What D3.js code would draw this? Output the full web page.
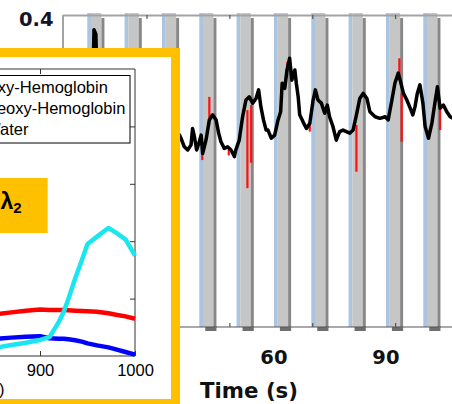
<!DOCTYPE html>
<html>
<head>
<meta charset="utf-8">
<script src="https://cdn.jsdelivr.net/npm/d3@7"></script>
<style>
  body { margin: 0; background: #fff; }
  svg { display: block; }
</style>
</head>
<body>
<div class="vis-holder"></div>
<script>
// stimulus onsets (s)
var onsets = [10, 20, 30, 40, 50, 60, 70, 80, 90, 100];
// time labels under the axis
var timeLabels = [60, 90];
// small tick marks on the frame
var frameTicks = [26.0, 48.2, 70.4, 92.6];

// filtered signal (black)
var traceT = [3.5, 8.1, 11.3, 11.8, 12.3, 12.9, 18.8, 26.8, 33.8,
  34.7, 35.1, 36.0, 36.9, 37.8, 38.2, 38.7, 39.3, 40.0, 40.5,
  40.9, 41.8, 42.7, 43.6, 44.5, 45.2, 45.8, 46.7, 47.6, 48.5,
  49.4, 49.8, 50.7, 51.6, 52.5, 53.4, 54.3, 55.2, 55.9, 56.5,
  57.2, 57.9, 58.4, 59.3, 60.2, 61.1, 61.8, 62.2, 62.9, 63.5,
  64.2, 64.8, 65.6, 66.0, 66.5, 66.9, 67.8, 68.7, 69.6, 70.5,
  71.1, 71.8, 72.7, 73.6, 74.3, 74.9, 75.8, 76.7, 77.6, 78.5,
  79.4, 80.3, 81.2, 82.1, 83.0, 83.9, 84.9, 85.7, 87.1, 88.4,
  89.8, 90.6, 91.6, 92.4, 93.3, 93.8, 94.7, 95.6, 96.5, 97.2,
  97.8, 98.4, 99.1, 99.9, 100.5, 101.4, 102.3, 103.1, 103.8, 104.5,
  105.4, 106.3, 107.2, 108.0, 109.8];
var traceV = [0.08, 0.105, 0.131, 0.362, 0.351, 0.131, 0.092, 0.105, 0.10,
  0.092, 0.084, 0.062, 0.054, 0.067, 0.109, 0.088, 0.054, 0.075, 0.092,
  0.045, 0.079, 0.131, 0.144, 0.131, 0.097, 0.075, 0.058, 0.062, 0.054,
  0.037, 0.054, 0.079, 0.139, 0.182, 0.19, 0.174, 0.186, 0.208, 0.165,
  0.131, 0.105, 0.105, 0.084, 0.092, 0.131, 0.152, 0.225, 0.212, 0.259,
  0.289, 0.233, 0.259, 0.225, 0.19, 0.144, 0.126, 0.109, 0.122, 0.182,
  0.208, 0.182, 0.174, 0.148, 0.169, 0.139, 0.114, 0.079, 0.101, 0.105,
  0.101, 0.097, 0.105, 0.144, 0.186, 0.199, 0.186, 0.152, 0.139, 0.135,
  0.139, 0.131, 0.182, 0.225, 0.251, 0.233, 0.199, 0.182, 0.161, 0.144,
  0.165, 0.199, 0.221, 0.174, 0.114, 0.084, 0.122, 0.174, 0.216, 0.161,
  0.169, 0.152, 0.139, 0.135, 0.131];

// raw signal spikes (red)
var spikeT    = [40.8, 42.7, 47.9, 52.9, 53.9, 63.6, 69.6, 82.1, 93.6, 94.2, 104.5];
var spikeFrom = [0.054, 0.131, 0.060, 0.156, 0.169, 0.260, 0.122, 0.118, 0.233, 0.200, 0.161];
var spikeTo   = [0.028, 0.190, 0.040, -0.044, 0.021, 0.280, 0.101, -0.002, 0.289, 0.075, 0.105];

// inset: absorption spectra
var wavelength = [855, 870, 885, 900, 910, 920, 925, 930, 937, 944, 950, 960, 972, 980, 990, 1000];
var oxyHb   = [0.73, 0.76, 0.79, 0.81, 0.80, 0.80, 0.80, 0.795, 0.79, 0.785, 0.78, 0.77, 0.745, 0.72, 0.69, 0.65];
var deoxyHb = [0.30, 0.32, 0.335, 0.345, 0.31, 0.30, 0.30, 0.29, 0.275, 0.25, 0.22, 0.185, 0.15, 0.115, 0.07, 0.025];
var water   = [0.15, 0.19, 0.23, 0.28, 0.33, 0.60, 0.77, 1.0, 1.35, 1.67, 1.95, 2.08, 2.23, 2.15, 2.03, 1.75];
var insetXTicks = [900, 1000];
var insetYTicks = [1, 2, 3, 4];
var legendNames = ["Oxy-Hemoglobin", "Deoxy-Hemoglobin", "Water"];

var width = 452, height = 404;
var svg = d3.select(".vis-holder").append("svg")
  .attr("width", width).attr("height", height);

// ---------- main time series ----------
var xScale = d3.scaleLinear().domain([3.5, 110]).range([63, 460.6]);
var yScale = d3.scaleLinear().domain([-0.4, 0.4]).range([327, 15]);

var bands = svg.append("g");
onsets.forEach(function(t) {
  // dark shadow below axis
  bands.append("rect")
    .attr("x", xScale(t + 1.6)).attr("y", 326)
    .attr("width", xScale(t + 4.6) - xScale(t + 1.6)).attr("height", 5)
    .attr("fill", "#6e6e6e");
  bands.append("rect")
    .attr("x", xScale(t)).attr("y", 13)
    .attr("width", xScale(t + 1.0) - xScale(t)).attr("height", 314)
    .attr("fill", "#a9c5e0");
  bands.append("rect")
    .attr("x", xScale(t + 1.0)).attr("y", 13)
    .attr("width", xScale(t + 3.8) - xScale(t + 1.0)).attr("height", 314)
    .attr("fill", "#c6c6c6");
  bands.append("rect")
    .attr("x", xScale(t + 3.8)).attr("y", 18)
    .attr("width", xScale(t + 4.6) - xScale(t + 3.8)).attr("height", 310)
    .attr("fill", "#878787");
});

// frame
svg.append("line").attr("x1", 63).attr("x2", 460).attr("y1", 15.5).attr("y2", 15.5)
  .attr("stroke", "#a3a3a3").attr("stroke-width", 2);
svg.append("line").attr("x1", 63).attr("x2", 63).attr("y1", 15).attr("y2", 327)
  .attr("stroke", "#a3a3a3").attr("stroke-width", 2);
svg.append("line").attr("x1", 63).attr("x2", 460).attr("y1", 327).attr("y2", 327)
  .attr("stroke", "#555").attr("stroke-width", 1.2);

svg.selectAll(".ftick-top").data(frameTicks).enter().append("line")
  .attr("x1", function(d) { return xScale(d); }).attr("x2", function(d) { return xScale(d); })
  .attr("y1", 15).attr("y2", 19).attr("stroke", "#555").attr("stroke-width", 1.2);
svg.selectAll(".ftick-bot").data(frameTicks).enter().append("line")
  .attr("x1", function(d) { return xScale(d); }).attr("x2", function(d) { return xScale(d); })
  .attr("y1", 323).attr("y2", 327).attr("stroke", "#555").attr("stroke-width", 1.2);

// red raw spikes
svg.selectAll(".spike").data(spikeT).enter().append("line")
  .attr("x1", function(d) { return xScale(d); })
  .attr("x2", function(d) { return xScale(d); })
  .attr("y1", function(d, i) { return yScale(spikeFrom[i]); })
  .attr("y2", function(d, i) { return yScale(spikeTo[i]); })
  .attr("stroke", "#ff1010").attr("stroke-width", 2.2);

var trace = traceT.map(function(t, i) { return [t, traceV[i]]; });
var line = d3.line()
  .x(function(d) { return xScale(d[0]); })
  .y(function(d) { return yScale(d[1]); });
svg.append("path").attr("d", line(trace))
  .attr("fill", "none").attr("stroke", "#000").attr("stroke-width", 3.5)
  .attr("stroke-linejoin", "round");

// labels
svg.append("text").attr("x", 53.5).attr("y", 26)
  .attr("text-anchor", "end")
  .style("font", "bold 19.5px 'DejaVu Sans'").attr("fill", "#141428")
  .text("0.4");
svg.selectAll(".tlabel").data(timeLabels).enter().append("text")
  .attr("x", function(d) { return xScale(d); }).attr("y", 364)
  .attr("text-anchor", "middle")
  .style("font", "bold 19.5px 'DejaVu Sans'").attr("fill", "#111")
  .text(function(d) { return d; });
svg.append("text").attr("x", 200).attr("y", 397.5)
  .style("font", "bold 21.3px 'DejaVu Sans'").attr("fill", "#111")
  .text("Time (s)");

// ---------- inset ----------
var inset = svg.append("g");
inset.append("rect").attr("x", -20).attr("y", 52.5)
  .attr("width", 195.5).attr("height", 351).attr("fill", "#fff");

var wScale = d3.scaleLinear().domain([850, 1000]).range([-7.5, 135]);
var aScale = d3.scaleLinear().domain([0, 5]).range([356, 69]);

// axes box
inset.append("path")
  .attr("d", "M-10," + aScale(5) + "H" + wScale(1000) + "V" + aScale(0) + "H-10")
  .attr("fill", "none").attr("stroke", "#333").attr("stroke-width", 1);

inset.append("g").attr("transform", "translate(0," + aScale(0) + ")")
  .call(d3.axisBottom(wScale).tickValues(insetXTicks).tickFormat(d3.format("d"))
    .tickSizeInner(-5).tickSizeOuter(0).tickPadding(8))
  .call(function(g) {
    g.select(".domain").remove();
    g.selectAll("line").attr("stroke", "#333");
    g.selectAll("text").style("font", "16.5px 'Liberation Sans'").attr("fill", "#000");
  });
inset.append("g").attr("transform", "translate(0," + aScale(5) + ")")
  .call(d3.axisTop(wScale).tickValues([900]).tickSizeInner(-5).tickSizeOuter(0).tickFormat(""))
  .call(function(g) { g.select(".domain").remove(); g.selectAll("line").attr("stroke", "#333"); });
inset.append("g").attr("transform", "translate(" + wScale(1000) + ",0)")
  .call(d3.axisRight(aScale).tickValues(insetYTicks).tickSizeInner(-5).tickSizeOuter(0).tickFormat(""))
  .call(function(g) { g.select(".domain").remove(); g.selectAll("line").attr("stroke", "#333"); });

inset.append("text").attr("x", 4.5).attr("y", 395)
  .attr("text-anchor", "end")
  .style("font", "16.5px 'Liberation Sans'").attr("fill", "#000")
  .text("Wavelength (nm)");

var spectra = [
  { name: legendNames[0], values: oxyHb, color: "#ff0000" },
  { name: legendNames[1], values: deoxyHb, color: "#0000ff" },
  { name: legendNames[2], values: water, color: "#19e6ee" }
];
var specLine = d3.line()
  .x(function(d, i) { return wScale(wavelength[i]); })
  .y(function(d) { return aScale(d); });
spectra.forEach(function(s) {
  inset.append("path").attr("d", specLine(s.values))
    .attr("fill", "none").attr("stroke", s.color).attr("stroke-width", 4.5)
    .attr("stroke-linejoin", "round");
});

// legend
inset.append("rect").attr("x", -40).attr("y", 75.5)
  .attr("width", 170).attr("height", 67.5)
  .attr("fill", "#fff").attr("stroke", "#000").attr("stroke-width", 1);
inset.selectAll(".leg").data(legendNames).enter().append("text")
  .attr("x", -15).attr("y", function(d, i) { return 93.3 + i * 21; })
  .style("font", "16.5px 'Liberation Sans'").attr("fill", "#000")
  .text(function(d) { return d; });

// lambda 2 tag
inset.append("rect").attr("x", -10).attr("y", 178)
  .attr("width", 57.7).attr("height", 55).attr("fill", "#ffc000");
var lam = inset.append("text").attr("x", 0.5).attr("y", 209)
  .style("font", "bold 23px 'Liberation Sans'").attr("fill", "#000");
lam.append("tspan").text("λ");
lam.append("tspan").attr("dy", 4).style("font-size", "15px").text("2");

// orange border
inset.append("rect").attr("x", -20).attr("y", 52.5)
  .attr("width", 195.5).attr("height", 351)
  .attr("fill", "none").attr("stroke", "#ffc000").attr("stroke-width", 9);
</script>
</body>
</html>
